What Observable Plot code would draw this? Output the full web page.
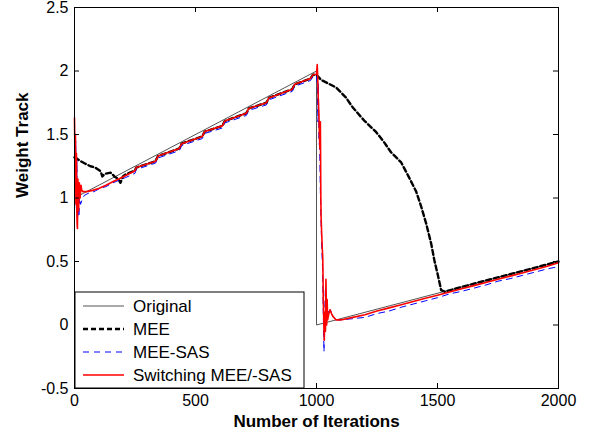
<!DOCTYPE html>
<html><head><meta charset="utf-8">
<script src="https://cdn.jsdelivr.net/npm/d3@7"></script>
<script src="https://cdn.jsdelivr.net/npm/@observablehq/plot@0.6"></script>
<style>body{margin:0;background:#fff}#chart{width:590px;height:439px}</style>
</head><body><div id="chart"></div>
<script>
// ---- data ----
const seriesNames = ["Original", "MEE", "MEE-SAS", "Switching MEE/-SAS"];
const xTicks = [0, 500, 1000, 1500, 2000];
const xTickLabels = ["0", "500", "1000", "1500", "2000"];
const yTicks = [-0.5, 0, 0.5, 1, 1.5, 2, 2.5];
const yTickLabels = ["-0.5", "0", "0.5", "1", "1.5", "2", "2.5"];

const origX = [0, 1000, 1000, 2000];
const origY = [1.0, 2.0, 0.0, 0.5];

const meeX = [0, 10, 25, 45, 66, 85, 108, 115, 125, 149, 165, 180, 190, 200, 215, 250, 255, 335, 345, 433, 443, 528, 538, 611, 621, 710, 720, 793, 803, 900, 910, 975, 985, 1000,
  1019, 1050, 1081, 1122, 1151, 1197, 1246, 1279, 1308, 1350, 1383, 1412, 1433, 1453, 1474, 1487, 1503, 1515, 1530, 1600, 1700, 1800, 1900, 2000];
const meeY = [1.32, 1.31, 1.29, 1.27, 1.25, 1.24, 1.21, 1.17, 1.19, 1.20, 1.17, 1.15, 1.12, 1.17, 1.19, 1.215, 1.24, 1.29, 1.33, 1.39, 1.428, 1.485, 1.523, 1.568, 1.606, 1.667, 1.705, 1.75, 1.788, 1.857, 1.895, 1.94, 1.97, 1.97,
  1.93, 1.90, 1.87, 1.79, 1.71, 1.61, 1.52, 1.44, 1.36, 1.28, 1.16, 1.05, 0.93, 0.80, 0.64, 0.51, 0.38, 0.275, 0.262, 0.30, 0.35, 0.40, 0.45, 0.50];

const sasX = [0, 3, 5, 8, 10, 12, 15, 18, 22, 25, 30, 40, 60, 80, 100, 130, 160, 190, 210, 250, 255, 335, 345, 433, 443, 528, 538, 611, 621, 710, 720, 793, 803, 900, 910, 975, 985, 1000,
  1003, 1006, 1008, 1010, 1013, 1016, 1019, 1022, 1025, 1028, 1031, 1034, 1037, 1040, 1044, 1050, 1056, 1062, 1070, 1085, 1100, 1150, 1200, 1250, 1300, 1350, 1400, 1450, 1500, 1550, 1600, 1650, 1700, 1750, 1800, 1850, 1900, 1950, 2000];
const sasY = [1.6, 1.2, 1.45, 0.9, 1.3, 0.75, 1.1, 0.85, 1.05, 0.95, 0.98, 1.02, 1.04, 1.05, 1.07, 1.09, 1.12, 1.145, 1.16, 1.195, 1.225, 1.275, 1.315, 1.373, 1.413, 1.468, 1.508, 1.551, 1.591, 1.65, 1.69, 1.733, 1.773, 1.84, 1.88, 1.925, 1.955, 1.96,
  1.9, 1.6, 1.9, 1.45, 1.4, 1.05, 0.8, 0.6, 0.45, 0.1, -0.21, 0.1, 0.3, 0.0, 0.05, 0.12, 0.13, 0.09, 0.06, 0.04, 0.04, 0.05, 0.06, 0.09, 0.11, 0.14, 0.165, 0.19, 0.215, 0.245, 0.265, 0.29, 0.315, 0.345, 0.365, 0.39, 0.415, 0.44, 0.46];

const swX = [0, 2, 4, 6, 8, 10, 12, 14, 17, 20, 23, 27, 30, 35, 50, 75, 100, 130, 160, 200, 250, 255, 335, 345, 433, 443, 528, 538, 611, 621, 710, 720, 793, 803, 900, 910, 975, 985, 1000,
  1003, 1005, 1007, 1010, 1012, 1014, 1016, 1018, 1019, 1021, 1024, 1026, 1028, 1030, 1032, 1035, 1037, 1039, 1042, 1044, 1046, 1050, 1056, 1062, 1067, 1081, 1100, 1150, 1200, 1250, 1300, 1350, 1400, 1450, 1500, 1550, 1600, 1650, 1700, 1750, 1800, 1850, 1900, 1950, 2000];
const swY = [1.63, 1.3, 1.5, 0.95, 1.35, 0.85, 0.76, 1.15, 0.9, 1.12, 1.0, 1.1, 1.06, 1.05, 1.05, 1.06, 1.075, 1.1, 1.13, 1.165, 1.215, 1.24, 1.29, 1.33, 1.39, 1.428, 1.485, 1.523, 1.568, 1.606, 1.667, 1.705, 1.75, 1.788, 1.857, 1.895, 1.94, 1.97, 1.975,
  2.05, 1.95, 1.8, 1.65, 1.49, 1.39, 1.6, 1.0, 0.85, 0.74, 0.6, 0.52, 0.2, 0.04, -0.12, 0.1, -0.05, 0.36, 0.0, 0.2, 0.04, 0.08, 0.12, 0.09, 0.07, 0.04, 0.04, 0.06, 0.08, 0.11, 0.135, 0.16, 0.185, 0.21, 0.235, 0.26, 0.285, 0.31, 0.335, 0.36, 0.385, 0.41, 0.435, 0.46, 0.49];

const colors = ["#555555", "#000000", "#0000ff", "#ff0000"];

// ---- layout ----
const W = 590, H = 439, mL = 74, mR = 32, mT = 7, mB = 51;
const pw = W - mL - mR, ph = H - mT - mB;
const FONT = "'Liberation Sans', Arial, sans-serif";
const FS = 16, FT = 17;

const rows = (xs, ys) => xs.map((x, i) => ({x, y: ys[i]}));

const chart = Plot.plot({
  width: W, height: H,
  marginLeft: mL, marginRight: mR, marginTop: mT, marginBottom: mB,
  x: {domain: [0, 2000]},
  y: {domain: [-0.5, 2.5]},
  style: {fontFamily: FONT, background: "white", color: "black"},
  marks: [
    Plot.line(rows(origX, origY), {x: "x", y: "y", stroke: colors[0], strokeWidth: 1}),
    Plot.line(rows(meeX, meeY), {x: "x", y: "y", stroke: colors[1], strokeWidth: 2.4, strokeDasharray: "5,3"}),
    Plot.line(rows(sasX, sasY), {x: "x", y: "y", stroke: colors[2], strokeWidth: 1, strokeDasharray: "6,5"}),
    Plot.line(rows(swX, swY), {x: "x", y: "y", stroke: colors[3], strokeWidth: 1.6}),
    Plot.frame({stroke: "black", strokeWidth: 1}),
    Plot.tickX(xTicks, {x: d => d, insetTop: ph - 5, stroke: "black"}),
    Plot.tickX(xTicks, {x: d => d, insetBottom: ph - 5, stroke: "black"}),
    Plot.tickY(yTicks, {y: d => d, insetRight: pw - 5, stroke: "black"}),
    Plot.tickY(yTicks, {y: d => d, insetLeft: pw - 5, stroke: "black"}),
    Plot.axisX(xTicks, {tickSize: 0, tickPadding: 6, fontSize: FS, label: null,
      tickFormat: d => xTickLabels[xTicks.indexOf(d)]}),
    Plot.axisY(yTicks, {tickSize: 0, tickPadding: 6, fontSize: FS, label: null,
      tickFormat: d => yTickLabels[yTicks.indexOf(d)]}),
    Plot.text(["Number of Iterations"], {frameAnchor: "bottom", dy: 38, fontSize: FT, fontWeight: "bold", fill: "black"}),
    Plot.text(["Weight Track"], {frameAnchor: "left", dx: -52, rotate: -90, fontSize: FT, fontWeight: "bold", fill: "black"})
  ]
});
document.getElementById("chart").appendChild(chart);

// ---- legend (inside the axes, lower left) ----
const svg = d3.select(chart);
const lg = svg.append("g");
const bx = 75, by = 292, bw = 229, bh = H - mB - 292;
lg.append("rect").attr("x", bx).attr("y", by).attr("width", bw).attr("height", bh)
  .attr("fill", "white").attr("stroke", "black").attr("stroke-width", 1);
const dashes = [null, "5,3", "6,5", null];
const widths = [1, 2.4, 1, 1.6];
seriesNames.forEach((name, i) => {
  const cy = 306 + i * 23;
  lg.append("line").attr("x1", 83).attr("x2", 124).attr("y1", cy).attr("y2", cy)
    .attr("stroke", colors[i]).attr("stroke-width", widths[i])
    .attr("stroke-dasharray", dashes[i]);
  lg.append("text").attr("x", 133).attr("y", cy).attr("dy", "0.35em")
    .attr("text-anchor", "start")
    .attr("font-family", FONT).attr("font-size", FT).attr("fill", "black").text(name);
});
</script>
</body></html>
